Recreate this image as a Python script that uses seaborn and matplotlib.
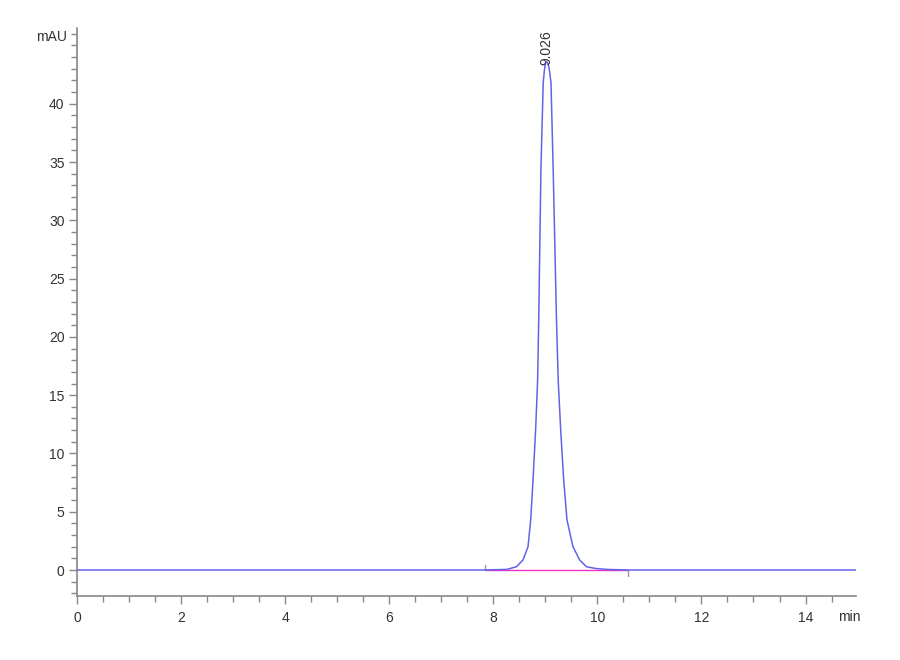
import matplotlib
matplotlib.use("Agg")
import matplotlib.pyplot as plt
from matplotlib.ticker import MultipleLocator
import seaborn as sns
import pandas as pd

# Chromatogram trace (time in min, signal in mAU)
time_min = [0.0, 2.0, 4.0, 6.0, 7.8, 8.258, 8.444, 8.571, 8.667, 8.719, 8.763,
            8.813, 8.852, 8.873, 8.915, 8.959, 8.985, 9.006, 9.026, 9.047, 9.075,
            9.109, 9.151, 9.214, 9.247, 9.295, 9.353, 9.416, 9.531, 9.660, 9.789,
            9.97, 10.179, 10.6, 12.0, 13.0, 14.97]
signal_mau = [0.0, 0.0, 0.0, 0.0, 0.0, 0.05, 0.28, 0.86, 2.0, 4.3, 7.7,
              12.0, 16.3, 21.5, 34.3, 41.8, 43.0, 43.5, 43.6, 43.5, 43.0,
              41.8, 34.3, 21.5, 16.3, 12.0, 7.7, 4.3, 2.0, 0.86, 0.28,
              0.13, 0.05, 0.0, 0.0, 0.0, 0.0]

# Integration baseline and peak annotation
baseline_start = 7.85
baseline_end = 10.58
peak_rt = 9.026
peak_label = "9.026"
label_base = 43.3

xtick_major = [0, 2, 4, 6, 8, 10, 12, 14]
ytick_major = [0, 5, 10, 15, 20, 25, 30, 35, 40]

sns.set_style("white")
plt.rcParams['font.family'] = ['Liberation Sans Narrow', 'Liberation Sans', 'DejaVu Sans']

fig = plt.figure(figsize=(9, 6.6), dpi=100)
ax = fig.add_axes([77/900, 1-596/660, 779/900, 568/660])

df = pd.DataFrame({"t": time_min, "v": signal_mau})
sns.lineplot(data=df, x="t", y="v", ax=ax, color="#6262ea", linewidth=1.1,
             sort=False, estimator=None, zorder=3)

# baseline (magenta) and event ticks
ax.plot([baseline_start, baseline_end], [0, 0], color="#ee33cc", linewidth=1.0, zorder=2)
ax.plot([baseline_start, baseline_start], [0, 0.45], color="#999999", linewidth=1.0)
ax.plot([baseline_end, baseline_end], [0, -0.5], color="#999999", linewidth=1.0)

ax.text(peak_rt, label_base, peak_label, rotation=90, ha="center", va="bottom",
        fontsize=10, color="#333333", zorder=4)

ax.set_xlim(0, 14.97)
ax.set_ylim(-2.23, 46.5)
ax.set_xticks(xtick_major)
ax.set_yticks(ytick_major)
ax.xaxis.set_minor_locator(MultipleLocator(0.5))
ax.yaxis.set_minor_locator(MultipleLocator(1))
ax.set_xlabel("")
ax.set_ylabel("")

for s in ["top", "right"]:
    ax.spines[s].set_visible(False)
for s in ["left", "bottom"]:
    ax.spines[s].set_color("#888888")
    ax.spines[s].set_linewidth(1.2)

ax.tick_params(axis="both", which="both", bottom=True, left=True, top=False, right=False)
ax.tick_params(axis="both", which="major", direction="out", length=6, width=1,
               color="#888888", labelsize=10, labelcolor="#333333", pad=3)
ax.tick_params(axis="both", which="minor", direction="out", length=4, width=1,
               color="#888888")
ax.tick_params(axis="x", which="major", pad=5)

fig.text(67/900, 1-37/660, "mAU", ha="right", va="center", fontsize=10, color="#333333")
fig.text(849/900, 1-617/660, "min", ha="center", va="center", fontsize=10, color="#333333")

fig.savefig("out.png", dpi=100)
